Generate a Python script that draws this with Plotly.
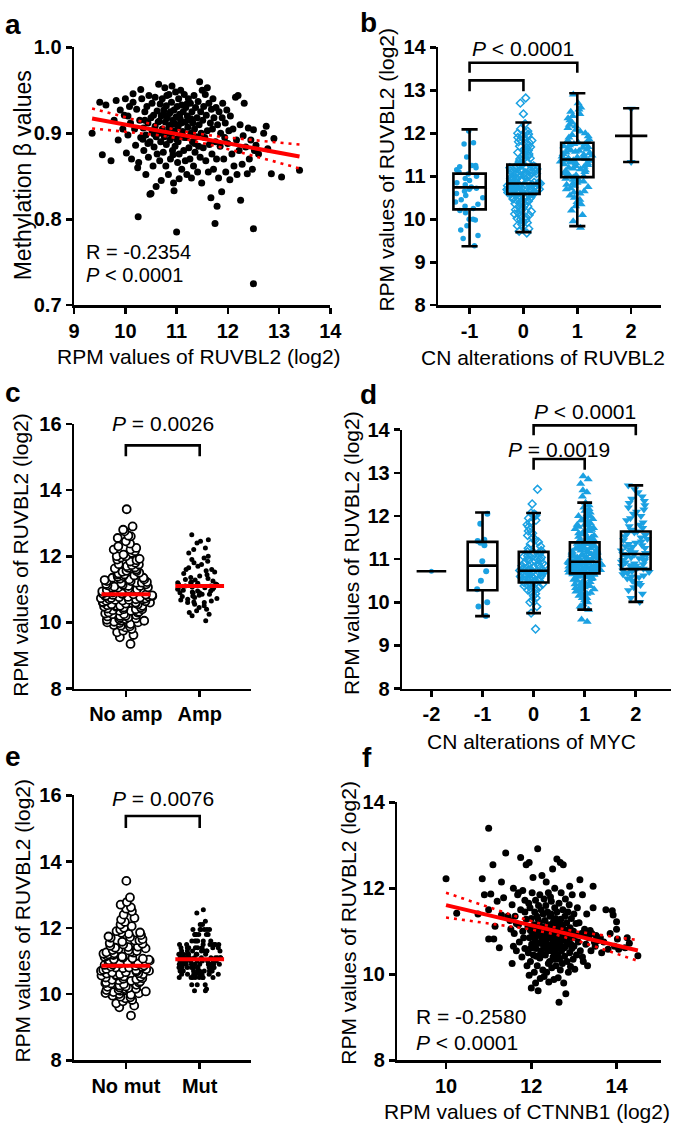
import numpy as np
import plotly.graph_objects as go

W, H = 685, 1135
FONT = "Liberation Sans, Arial, sans-serif"
BLUE = "#1BA1E2"
RED = "#FF0000"

# ---------------- Panel a: RUVBL2 (log2) vs methylation beta ----------------
a_points = [
    (9.35, .900), (9.50, .936), (9.55, .875), (9.62, .933), (9.72, .868), (9.78, .915), (9.82, .938), (9.86, .892), (9.90, .927),
    (9.95, .905), (9.98, .921), (10.00, .940), (10.02, .877), (10.05, .898), (10.08, .931), (10.10, .912), (10.12, .870), (10.15, .946),
    (10.18, .905), (10.20, .886), (10.22, .928), (10.24, .860), (10.25, .803), (10.26, .866), (10.28, .915), (10.30, .951), (10.30, .895),
    (10.05, .920), (10.15, .936),
    (10.32, .940), (10.35, .906), (10.36, .880), (10.38, .925), (10.40, .898), (10.40, .852), (10.42, .931), (10.44, .912), (10.45, .872),
    (10.46, .944), (10.48, .890), (10.50, .918), (10.50, .830), (10.52, .935), (10.52, .903), (10.54, .862), (10.55, .921), (10.56, .884),
    (10.58, .942), (10.58, .908), (10.60, .896), (10.60, .838), (10.62, .926), (10.62, .876), (10.64, .913), (10.65, .957), (10.66, .900),
    (10.67, .868), (10.68, .934), (10.69, .890), (10.70, .920), (10.70, .845), (10.38, .915), (10.44, .888), (10.48, .829), (10.56, .899),
    (10.66, .914), (10.34, .893),
    (10.72, .940), (10.72, .905), (10.74, .878), (10.75, .927), (10.76, .896), (10.77, .953), (10.78, .913), (10.79, .862), (10.80, .932),
    (10.80, .887), (10.82, .918), (10.83, .901), (10.84, .852), (10.85, .945), (10.86, .923), (10.87, .892), (10.88, .870), (10.89, .910),
    (10.90, .936), (10.90, .898), (10.91, .955), (10.92, .880), (10.93, .915), (10.94, .842), (10.95, .927), (10.96, .903), (10.97, .885),
    (10.98, .948), (10.99, .919), (11.00, .893), (11.00, .785), (11.01, .931), (11.02, .866), (11.03, .908), (11.04, .940), (11.05, .876),
    (11.06, .922), (11.07, .897), (11.08, .950), (11.09, .912), (11.10, .858), (11.10, .933), (10.74, .922), (10.81, .944), (10.85, .907),
    (10.88, .925), (10.93, .875), (10.97, .911), (11.03, .890), (11.07, .917), (10.79, .900), (10.95, .833), (11.05, .847),
    (11.12, .902), (11.13, .925), (11.14, .880), (11.15, .945), (11.16, .913), (11.17, .868), (11.18, .930), (11.19, .895), (11.20, .852),
    (11.21, .920), (11.22, .907), (11.23, .940), (11.24, .883), (11.25, .915), (11.26, .870), (11.27, .935), (11.28, .900), (11.29, .848),
    (11.30, .925), (11.31, .890), (11.32, .912), (11.33, .862), (11.34, .944), (11.35, .905), (11.36, .878), (11.37, .930), (11.38, .896),
    (11.40, .918), (11.41, .855), (11.42, .937), (11.43, .885), (11.44, .910), (11.45, .960), (11.46, .872), (11.47, .925), (11.48, .900),
    (11.49, .842), (11.20, .934), (11.28, .917), (11.35, .888), (11.15, .895),
    (11.50, .950), (11.51, .915), (11.52, .883), (11.53, .931), (11.55, .895), (11.56, .945), (11.57, .868), (11.58, .921), (11.60, .953),
    (11.60, .903), (11.62, .855), (11.63, .935), (11.64, .887), (11.66, .912), (11.67, .825), (11.68, .928), (11.69, .876), (11.70, .905),
    (11.71, .940), (11.72, .858), (11.73, .918), (11.75, .795), (11.76, .890), (11.77, .930), (11.78, .870), (11.79, .815), (11.80, .910),
    (11.82, .848), (11.83, .925), (11.85, .885), (11.86, .900), (11.88, .832), (11.89, .918),
    (11.90, .935), (11.92, .870), (11.94, .895), (11.95, .912), (11.96, .855), (11.98, .927), (12.00, .888), (12.02, .903), (12.04, .846),
    (12.05, .920), (12.08, .876), (12.10, .905), (12.12, .862), (12.15, .942), (12.17, .892), (12.18, .852), (12.20, .944), (12.22, .880),
    (12.24, .910), (12.25, .822), (12.28, .864), (12.30, .897),
    (12.32, .935), (12.35, .884), (12.38, .853), (12.40, .906), (12.42, .870), (12.45, .892), (12.48, .858), (12.50, .904), (12.50, .789),
    (12.50, .725), (12.52, .880), (12.55, .886), (12.60, .876), (12.70, .900), (12.75, .908), (12.78, .882), (12.85, .853), (12.90, .894),
    (13.05, .849), (13.40, .857),
]
a_ticks_x = [9, 10, 11, 12, 13, 14]
a_ticks_y = [0.7, 0.8, 0.9, 1.0]
a_ticktext_y = ["0.7", "0.8", "0.9", "1.0"]

# ---------------- Panel b: RUVBL2 by CN alteration of RUVBL2 ----------------
b_cn = [-1, 0, 1, 2]
b_m1 = [12.05, 11.78, 11.75, 11.45, 11.25, 11.2, 11.22, 11.25, 11.15, 11.1, 11.05, 11.0, 10.95, 10.9, 10.85, 10.8, 10.75,
        10.72, 10.7, 10.65, 10.6, 10.55, 10.5, 10.45, 10.4, 10.35, 10.3, 10.25, 10.2, 10.15, 10.0, 10.0, 9.98, 9.85, 9.75,
        9.62, 9.55, 9.38]
b_0 = [9.68, 9.72, 9.78, 9.85, 9.88, 9.92, 9.95, 9.98, 10.0, 10.02, 10.05, 10.08, 10.1, 10.12, 10.15, 10.18, 10.2, 10.22,
       10.25, 10.27, 10.3, 10.32, 10.34, 10.36, 10.38, 10.4, 10.42, 10.44, 10.45, 10.47, 10.48, 10.5, 10.51, 10.52, 10.54,
       10.55, 10.56, 10.57, 10.58, 10.59,
       10.6, 10.61, 10.62, 10.62, 10.63, 10.64, 10.65, 10.65, 10.66, 10.67, 10.68, 10.68, 10.69, 10.7, 10.7, 10.71, 10.72,
       10.72, 10.73, 10.74, 10.75, 10.75, 10.76, 10.77, 10.78, 10.78, 10.79, 10.8, 10.8, 10.81, 10.82, 10.82, 10.83, 10.83, 10.84,
       10.85, 10.86, 10.87, 10.88, 10.9, 10.91, 10.92, 10.94, 10.95, 10.96, 10.98, 10.99, 11.0, 11.02, 11.03, 11.04, 11.05,
       11.06, 11.08, 11.09, 11.1, 11.11, 11.12, 11.13, 11.14, 11.15, 11.16, 11.17, 11.18, 11.19, 11.2, 11.21, 11.22, 11.23,
       11.24, 11.25, 10.93, 11.07,
       11.27, 11.3, 11.32, 11.35, 11.38, 11.4, 11.42, 11.45, 11.48, 11.5, 11.52, 11.55, 11.58, 11.6, 11.62, 11.65, 11.68, 11.7,
       11.72, 11.75, 11.78, 11.8, 11.83, 11.85, 11.88, 11.9, 11.93, 11.95, 11.98, 12.0, 12.02, 12.05, 12.1, 12.22, 12.45, 12.7, 12.82]
b_1 = [9.8, 9.95, 10.1, 10.2, 10.3, 10.35, 10.4, 10.45, 10.5, 10.55, 10.6, 10.62, 10.65, 10.7, 10.72, 10.75, 10.78, 10.8,
       10.83, 10.85, 10.88, 10.9, 10.92, 10.94, 10.95,
       10.97, 11.0, 11.02, 11.05, 11.07, 11.1, 11.12, 11.14, 11.16, 11.18, 11.2, 11.22, 11.24, 11.26, 11.28, 11.3, 11.32, 11.34,
       11.35, 11.36, 11.37, 11.38,
       11.4, 11.42, 11.44, 11.46, 11.48, 11.5, 11.52, 11.54, 11.55, 11.57, 11.59, 11.6, 11.62, 11.64, 11.66, 11.68, 11.7, 11.72,
       11.74, 11.75, 11.3, 11.45,
       11.78, 11.8, 11.83, 11.86, 11.9, 11.93, 11.96, 12.0, 12.04, 12.08, 12.12, 12.16, 12.2, 12.25, 12.3, 12.35, 12.4, 12.45,
       12.5, 12.55, 12.6, 12.7, 12.9]
b_2 = [12.57, 11.33]
b_q1 = [10.23, 10.59, 10.98, 11.94]
b_med = [10.74, 10.83, 11.39, 11.94]
b_q3 = [11.06, 11.27, 11.78, 11.94]
b_lo = [9.37, 9.70, 9.84, 11.33]
b_hi = [12.09, 12.25, 12.93, 12.58]

# ---------------- Panel c: MYC amplification ----------------
c_groups = ["No amp", "Amp"]
c_noamp = [9.35, 9.55, 9.62, 9.7, 9.75, 9.8, 9.85, 9.88, 9.92, 9.95, 9.98, 10.0, 10.02, 10.05, 10.08, 10.1, 10.12, 10.15,
           10.18, 10.2, 10.22, 10.25, 10.27, 10.3, 10.32, 10.35, 10.37, 10.4, 10.42, 10.45, 10.47, 10.5, 10.52, 10.55, 10.57,
           10.6, 10.62, 10.64, 10.66, 10.68, 10.7, 10.72, 10.74, 10.76, 10.78, 10.8, 10.82, 10.84, 10.86, 10.88, 10.9,
           10.92, 10.94, 10.96, 10.98, 11.0, 11.02, 11.04, 11.06, 11.08, 11.1, 11.12, 11.14, 11.16, 11.18, 11.2, 11.22, 11.25,
           11.28, 11.3, 11.32, 11.35, 11.38, 11.4, 11.42, 11.45, 11.48, 11.5, 11.53, 11.56, 11.6, 11.63, 11.66, 11.7, 11.73,
           11.76, 11.8, 11.84, 11.88, 11.92, 11.96, 12.0, 12.05, 12.1, 12.15, 12.2, 12.25, 12.3, 12.38, 12.45, 12.55, 12.6,
           12.62, 12.75, 12.8, 12.9, 13.42,
           10.4, 10.5, 10.6, 10.7, 10.8, 10.9, 11.0, 11.1, 11.2, 11.3, 10.45, 10.55, 10.65, 10.75, 10.85, 10.95, 11.05, 11.15,
           11.25, 11.35, 10.3, 10.2, 10.1, 11.45, 11.55, 11.65, 11.75, 10.0, 9.9, 11.9, 12.0, 12.2,
           10.05, 10.15, 10.25, 10.35, 10.48, 10.58, 10.68, 10.73, 10.77, 10.83, 10.6, 10.4, 10.5, 10.7, 10.87, 10.81]
c_amp = [10.05, 10.2, 10.25, 10.3, 10.35, 10.4, 10.45, 10.5, 10.55, 10.6, 10.62, 10.65, 10.68, 10.7, 10.72, 10.75, 10.78,
         10.8, 10.82, 10.85, 10.88, 10.9, 10.92, 10.95, 10.97, 11.0, 11.02, 11.05, 11.07, 11.1, 11.12, 11.14, 11.16, 11.18,
         11.2, 11.22, 11.25, 11.28, 11.3, 11.33, 11.36, 11.4, 11.44, 11.48, 11.52, 11.56, 11.6, 11.65, 11.7, 11.75, 11.8,
         11.85, 11.9, 11.95, 12.0, 12.1, 12.2, 12.25, 12.4, 12.45, 12.5, 12.65, 10.9, 11.0, 11.1, 11.05, 10.95, 11.15, 10.85,
         11.2, 10.6, 11.6]

# ---------------- Panel d: RUVBL2 by CN alteration of MYC ----------------
d_cn = [-2, -1, 0, 1, 2]
d_m2 = [10.72]
d_m1 = [12.05, 11.82, 11.45, 11.42, 11.38, 11.32, 10.95, 10.72, 10.5, 10.3, 10.0, 9.9, 9.68]
d_0 = [9.38, 9.75, 9.9, 10.0, 10.05, 10.1, 10.15, 10.2, 10.25, 10.28, 10.3, 10.33, 10.35, 10.38, 10.4, 10.42, 10.44, 10.45,
       10.46, 10.48, 10.5, 10.52, 10.53, 10.55, 10.56, 10.58, 10.6, 10.61, 10.62, 10.64, 10.65, 10.66, 10.68, 10.69, 10.7,
       10.71, 10.72, 10.73, 10.74, 10.75, 10.76, 10.78, 10.8, 10.82, 10.84, 10.86, 10.88, 10.9, 10.92, 10.94, 10.96, 10.98,
       11.0, 11.02, 11.04, 11.06, 11.08, 11.1, 11.12, 11.14, 11.16, 11.17, 11.2, 11.25, 11.3, 11.35, 11.4, 11.45, 11.5,
       11.55, 11.6, 11.65, 11.7, 11.75, 11.8, 11.85, 11.9, 11.95, 12.0, 12.02, 12.05, 12.07, 12.28, 12.62, 10.5, 10.6,
       10.7, 10.8, 10.9, 11.0, 10.55, 10.65, 10.75, 10.85]
d_1 = [9.55, 9.6, 9.83, 9.9, 9.95, 10.0, 10.05, 10.1, 10.15, 10.2, 10.22, 10.25, 10.28, 10.3, 10.33, 10.35, 10.38, 10.4,
       10.42, 10.45, 10.47, 10.5, 10.52, 10.54, 10.56, 10.58, 10.6, 10.62, 10.64, 10.66, 10.67,
       10.3, 10.4, 10.5, 10.55, 10.6, 10.45, 10.35, 10.65, 10.2, 10.1, 10.62,
       10.68, 10.69, 10.7, 10.71, 10.72, 10.73, 10.74, 10.75, 10.76, 10.77, 10.78, 10.79, 10.8, 10.81, 10.82, 10.83, 10.84,
       10.85, 10.86, 10.87, 10.88, 10.89, 10.9, 10.91, 10.92, 10.93, 10.94, 10.7, 10.72, 10.75, 10.78, 10.8, 10.83, 10.85,
       10.88, 10.9, 10.92, 10.74, 10.82, 10.86, 10.76, 10.89, 10.94,
       10.95, 10.96, 10.97, 10.98, 10.99, 11.0, 11.02, 11.04, 11.05, 11.06, 11.08, 11.1, 11.12, 11.14, 11.15, 11.16, 11.18,
       11.2, 11.22, 11.24, 11.25, 11.26, 11.28, 11.3, 11.32, 11.34, 11.35, 11.36, 11.38, 11.39, 11.0, 11.05, 11.1, 11.15,
       11.2, 11.25, 11.3, 11.35, 10.98, 11.08, 11.18, 11.28, 11.38,
       11.42, 11.45, 11.48, 11.5, 11.52, 11.55, 11.58, 11.6, 11.62, 11.65, 11.68, 11.7, 11.72, 11.75, 11.78, 11.8, 11.83,
       11.86, 11.9, 11.93, 11.96, 12.0, 12.04, 12.08, 12.12, 12.16, 12.2, 12.25, 12.31, 12.45, 12.55, 12.6, 12.75, 12.85,
       12.92, 11.5, 11.6, 11.7, 11.8, 11.9, 12.0, 11.45]
d_2 = [10.01, 10.1, 10.2, 10.28, 10.35, 10.4, 10.45, 10.5, 10.55, 10.58, 10.62, 10.65, 10.68, 10.7, 10.72, 10.74, 10.76,
       10.77, 10.45, 10.6,
       10.78, 10.8, 10.82, 10.84, 10.86, 10.88, 10.9, 10.92, 10.94, 10.96, 10.98, 11.0, 11.02, 11.04, 11.06, 11.08, 11.1,
       11.11, 11.12, 10.85,
       11.14, 11.16, 11.18, 11.2, 11.23, 11.26, 11.29, 11.32, 11.35, 11.38, 11.41, 11.44, 11.47, 11.5, 11.53, 11.56, 11.59,
       11.62, 11.64, 11.3,
       11.68, 11.72, 11.76, 11.8, 11.85, 11.9, 11.95, 12.0, 12.05, 12.1, 12.15, 12.2, 12.25, 12.3, 12.35, 12.4, 12.45, 12.55,
       12.62, 12.71]
d_q1 = [10.72, 10.28, 10.46, 10.67, 10.77]
d_med = [10.72, 10.85, 10.73, 10.94, 11.12]
d_q3 = [10.72, 11.40, 11.17, 11.39, 11.64]
d_lo = [10.72, 9.68, 9.75, 9.83, 10.01]
d_hi = [10.72, 12.08, 12.07, 12.31, 12.71]

# ---------------- Panel e: CTNNB1 mutation ----------------
e_groups = ["No mut", "Mut"]
e_nomut = [9.35, 9.6, 9.65, 9.72, 9.78, 9.82, 9.87, 9.9, 9.95, 9.98, 10.0, 10.03, 10.06, 10.1, 10.13, 10.16, 10.2, 10.23,
           10.26, 10.3, 10.33, 10.36, 10.4, 10.43, 10.46, 10.5, 10.53, 10.56, 10.6, 10.63, 10.66, 10.7, 10.73, 10.76, 10.8,
           10.83, 10.86, 10.89,
           10.92, 10.95, 10.98, 11.01, 11.04, 11.07, 11.1, 11.13, 11.16, 11.2, 11.23, 11.26, 11.3, 11.33, 11.36, 11.4, 11.43,
           11.46, 11.5, 11.54, 11.58, 11.62, 11.66, 11.7, 11.74, 11.78, 11.82, 11.86, 11.9, 11.95, 12.0, 12.05, 12.1, 12.18,
           12.25, 12.3, 12.4, 12.5, 12.58, 12.62, 12.7, 12.78, 12.92, 13.42,
           10.02, 10.12, 10.22, 10.32, 10.42, 10.52, 10.62, 10.72, 10.82, 10.92, 11.02, 11.12, 11.22, 11.32, 11.42, 11.52,
           10.38, 10.48, 10.58, 10.68, 10.78, 10.88, 10.98, 11.08, 11.18, 11.28, 11.38, 10.28, 10.18, 10.08, 11.62, 11.72,
           11.85, 9.92, 10.45, 10.65, 10.85, 11.05, 11.25,
           10.15, 10.35, 10.55, 10.75, 10.8, 10.6, 10.7]
e_mut_levels = [10.1, 10.15, 10.28, 10.5, 10.6, 10.7, 10.8, 10.9, 11.0, 11.1, 11.2, 11.3, 11.4, 11.5, 11.6, 11.8, 11.95,
                12.1, 12.2, 12.45, 12.55]
e_mut_counts = [2, 1, 3, 8, 9, 11, 10, 12, 10, 11, 9, 8, 8, 7, 6, 6, 6, 2, 1, 1, 1]

# ---------------- Panel f: CTNNB1 vs RUVBL2 ----------------
f_points = [
    (10.0, 12.22), (10.25, 11.42), (10.75, 11.40), (10.85, 12.22), (11.0, 13.40), (11.0, 10.82), (11.05, 11.87), (11.1, 12.55),
    (11.12, 10.82), (11.15, 11.12), (11.25, 10.62), (11.3, 12.15), (11.35, 11.78), (11.4, 12.82), (11.45, 11.35), (11.5, 11.25),
    (11.2, 11.70), (11.3, 11.38), (10.9, 11.85), (11.0, 11.5),
    (11.52, 11.05), (11.55, 10.25), (11.55, 11.62), (11.58, 12.0), (11.6, 10.95), (11.62, 11.35), (11.65, 10.55), (11.68, 11.85),
    (11.7, 11.15), (11.72, 10.75), (11.75, 12.72), (11.75, 11.5), (11.78, 10.4), (11.8, 11.95), (11.8, 11.0), (11.82, 10.85),
    (11.85, 11.72), (11.85, 10.6), (11.88, 11.28), (11.88, 12.55), (11.9, 10.2), (11.58, 10.65), (11.7, 11.9), (11.65, 11.18),
    (11.85, 11.45),
    (11.92, 11.1), (11.93, 10.5), (11.95, 12.6), (11.95, 9.98), (11.96, 10.85), (11.97, 11.55), (11.98, 10.3), (12.0, 11.3),
    (12.0, 9.68), (12.01, 10.7), (12.02, 11.9), (12.03, 10.95), (12.04, 12.25), (12.05, 10.45), (12.06, 11.15), (12.07, 10.05),
    (12.08, 11.45), (12.09, 10.8), (12.1, 11.72), (12.1, 9.8), (12.11, 10.6), (12.12, 11.05), (12.13, 11.35), (12.14, 10.2),
    (12.15, 12.92), (12.15, 10.9), (12.16, 9.62), (12.17, 11.6), (12.18, 10.72), (12.19, 11.2), (12.2, 10.38), (12.2, 11.85),
    (12.21, 9.9), (12.22, 10.98), (12.23, 11.5), (12.24, 10.55), (12.25, 12.3), (12.25, 10.82), (12.26, 11.1), (12.27, 10.1),
    (12.28, 11.4), (12.29, 10.65), (12.3, 11.75), (12.3, 9.95), (11.94, 11.65), (12.0, 10.62), (12.06, 10.92), (12.12, 10.42),
    (12.18, 11.0), (12.24, 10.75), (12.28, 10.88), (11.98, 11.02), (12.08, 10.7), (12.16, 11.28), (12.22, 10.5), (12.02, 11.1),
    (12.31, 10.9), (12.32, 11.25), (12.33, 10.45), (12.34, 11.6), (12.35, 10.7), (12.35, 12.15), (12.36, 10.05), (12.37, 11.0),
    (12.38, 11.45), (12.39, 10.55), (12.4, 10.85), (12.4, 11.9), (12.41, 9.82), (12.42, 11.15), (12.43, 10.3), (12.44, 11.35),
    (12.45, 10.62), (12.46, 10.95), (12.47, 11.7), (12.48, 10.15), (12.49, 11.08), (12.5, 10.8), (12.5, 12.45), (12.51, 10.4),
    (12.52, 11.22), (12.53, 9.88), (12.54, 10.72), (12.55, 11.55), (12.55, 10.98), (12.56, 10.5), (12.57, 11.3), (12.58, 10.2),
    (12.59, 10.88), (12.6, 11.45), (12.6, 12.68), (12.61, 10.6), (12.62, 11.1), (12.63, 9.92), (12.64, 10.78), (12.65, 9.35),
    (12.65, 11.65), (12.66, 10.35), (12.67, 11.0), (12.68, 12.6), (12.68, 10.68), (12.69, 11.28), (12.7, 10.9), (12.7, 11.9),
    (12.32, 10.62), (12.36, 10.82), (12.42, 10.68), (12.44, 10.98), (12.48, 10.55), (12.52, 10.92), (12.56, 11.12),
    (12.58, 10.65), (12.62, 10.45), (12.64, 11.22), (12.66, 10.85), (12.34, 11.08), (12.38, 10.95), (12.46, 11.4),
    (12.54, 10.35), (12.6, 10.75), (12.5, 11.0), (12.4, 10.25), (12.68, 10.1), (12.45, 11.8), (12.55, 12.0),
    (12.71, 10.55), (12.72, 11.15), (12.73, 10.25), (12.74, 11.5), (12.75, 10.8), (12.75, 12.55), (12.76, 9.8), (12.77, 11.05),
    (12.78, 10.42), (12.79, 11.35), (12.8, 10.65), (12.8, 11.75), (12.81, 9.55), (12.82, 10.95), (12.83, 11.2), (12.84, 10.3),
    (12.85, 10.75), (12.86, 11.45), (12.87, 10.05), (12.88, 10.88), (12.89, 11.62), (12.9, 10.5), (12.9, 12.05), (12.91, 11.08),
    (12.92, 10.18), (12.93, 10.7), (12.94, 11.3), (12.95, 10.6), (12.96, 11.85), (12.97, 10.85), (12.98, 10.35), (12.99, 11.0),
    (13.0, 10.65), (13.0, 11.4), (13.02, 10.12), (13.04, 10.9), (13.05, 11.18), (13.06, 10.45), (13.08, 11.55), (13.1, 10.75),
    (12.72, 10.92), (12.78, 10.62), (12.84, 11.0), (12.92, 10.92),
    (13.12, 11.2), (13.14, 12.2), (13.15, 10.55), (13.18, 10.95), (13.2, 11.85), (13.22, 10.3), (13.25, 11.05), (13.28, 10.7),
    (13.3, 11.4), (13.32, 10.2), (13.35, 10.85), (13.38, 11.02), (13.4, 10.55), (13.42, 10.95), (13.45, 12.05), (13.45, 11.55),
    (13.48, 10.75), (13.5, 10.65), (13.52, 10.9), (13.55, 10.78), (13.2, 10.4), (13.3, 10.9),
    (13.62, 10.85), (13.65, 10.5), (13.7, 10.75), (13.75, 11.5), (13.8, 10.58), (13.85, 10.95), (13.9, 11.48), (13.92, 11.38),
    (13.95, 10.65), (14.0, 11.05), (14.02, 10.82), (14.05, 10.58), (14.2, 10.62), (14.25, 10.85), (14.3, 10.72), (14.5, 10.43),
    (14.0, 11.22),
]

# ---------------- geometry (pixels of each panel's plot box) ----------------
GEOM = {
    "a": dict(xpx=(70, 333), xr=(9, 14), ypx=(300, 37), yr=(0.7, 1.0)),
    "b": dict(xpx=(444, 673), xr=(-1.58, 2.56), ypx=(300, 37), yr=(8, 14)),
    "c": dict(xpx=(70, 252), xr=(-0.7, 1.7), ypx=(691, 421), yr=(8, 16)),
    "d": dict(xpx=(407, 683), xr=(-2.57, 2.69), ypx=(691, 427), yr=(8, 14)),
    "e": dict(xpx=(70, 252), xr=(-0.7, 1.7), ypx=(1070, 800), yr=(8, 16)),
    "f": dict(xpx=(402, 673), xr=(8.86, 15.05), ypx=(1070, 807), yr=(8, 14)),
}


def fx(px):
    return px / W


def fy(py):
    return 1 - py / H


def data_to_paper(panel, x, y):
    g = GEOM[panel]
    px = g["xpx"][0] + (x - g["xr"][0]) / (g["xr"][1] - g["xr"][0]) * (g["xpx"][1] - g["xpx"][0])
    py = g["ypx"][0] + (y - g["yr"][0]) / (g["yr"][1] - g["yr"][0]) * (g["ypx"][1] - g["ypx"][0])
    return fx(px), fy(py)


def fit_band(xv, yv):
    xv = np.asarray(xv, float)
    yv = np.asarray(yv, float)
    n = len(xv)
    slope, icpt = np.polyfit(xv, yv, 1)
    xs = np.linspace(xv.min(), xv.max(), 60)
    yhat = icpt + slope * xs
    resid = yv - (icpt + slope * xv)
    s = np.sqrt(np.sum(resid ** 2) / (n - 2))
    sxx = np.sum((xv - xv.mean()) ** 2)
    se = s * np.sqrt(1.0 / n + (xs - xv.mean()) ** 2 / sxx)
    return xs, yhat, yhat - 1.97 * se, yhat + 1.97 * se


fig = go.Figure()
LW = 2.6
TICK_SIZE = 20
TITLE_SIZE = 21


def axis(panel, which, tickvals, ticktext=None, anchor="x"):
    g = GEOM[panel]
    if which == "x":
        domain = [fx(g["xpx"][0]), fx(g["xpx"][1])]
        rng = list(g["xr"])
    else:
        domain = [fy(g["ypx"][0]), fy(g["ypx"][1])]
        rng = list(g["yr"])
    d = dict(domain=domain, range=rng, anchor=anchor, showline=True, linecolor="black", linewidth=LW,
             ticks="outside", ticklen=6, tickwidth=LW, tickcolor="black", showgrid=False, zeroline=False,
             tickvals=tickvals, tickfont=dict(family=FONT, size=TICK_SIZE, color="black", weight="bold"),
             fixedrange=True)
    if ticktext is not None:
        d["ticktext"] = ticktext
    return d


# panel a
ax, ay = zip(*a_points)
fig.add_trace(go.Scatter(x=ax, y=ay, mode="markers", marker=dict(color="black", size=7),
                         xaxis="x", yaxis="y", hoverinfo="skip"))
xs, yh, lo, hi = fit_band(ax, ay)
fig.add_trace(go.Scatter(x=xs, y=yh, mode="lines", line=dict(color=RED, width=4), xaxis="x", yaxis="y"))
for band in (lo, hi):
    fig.add_trace(go.Scatter(x=xs, y=band, mode="lines", line=dict(color=RED, width=2.6, dash="3px,5px"),
                             xaxis="x", yaxis="y"))

# panel f
fxv, fyv = zip(*f_points)
fig.add_trace(go.Scatter(x=fxv, y=fyv, mode="markers", marker=dict(color="black", size=7),
                         xaxis="x6", yaxis="y6", hoverinfo="skip"))
xs, yh, lo, hi = fit_band(fxv, fyv)
fig.add_trace(go.Scatter(x=xs, y=yh, mode="lines", line=dict(color=RED, width=4), xaxis="x6", yaxis="y6"))
for band in (lo, hi):
    fig.add_trace(go.Scatter(x=xs, y=band, mode="lines", line=dict(color=RED, width=2.6, dash="3px,5px"),
                             xaxis="x6", yaxis="y6"))

CLEAR = "rgba(0,0,0,0)"


def points(vals, pos, xa, ya, marker, width, jitter=1.0):
    fig.add_trace(go.Box(y=vals, x0=pos, boxpoints="all", jitter=jitter, pointpos=0, width=width,
                         line=dict(color=CLEAR, width=0.1), fillcolor=CLEAR, marker=marker,
                         xaxis=xa, yaxis=ya, hoverinfo="skip"))


# panel b points
points(b_m1, b_cn[0], "x2", "y2", dict(color=BLUE, size=5.5, symbol="circle"), 0.6)
points(b_0, b_cn[1], "x2", "y2", dict(color=BLUE, size=6, symbol="diamond-open", line=dict(color=BLUE, width=1.5)), 0.64)
points(b_1, b_cn[2], "x2", "y2", dict(color=BLUE, size=8, symbol="triangle-up"), 0.64)
points(b_2, b_cn[3], "x2", "y2", dict(color=BLUE, size=8, symbol="triangle-down"), 0.6, jitter=0)
fig.add_trace(go.Box(x=b_cn, q1=b_q1, median=b_med, q3=b_q3, lowerfence=b_lo, upperfence=b_hi,
                     boxpoints=False, width=0.6, whiskerwidth=0.5, line=dict(color="black", width=LW),
                     fillcolor=CLEAR, xaxis="x2", yaxis="y2", hoverinfo="skip"))

# panel d points
points(d_m2, d_cn[0], "x4", "y4", dict(color=BLUE, size=5, symbol="circle"), 0.56, jitter=0)
points(d_m1, d_cn[1], "x4", "y4", dict(color=BLUE, size=6, symbol="circle"), 0.6, jitter=0.5)
points(d_0, d_cn[2], "x4", "y4", dict(color=BLUE, size=6, symbol="diamond-open", line=dict(color=BLUE, width=1.5)), 0.62)
points(d_1, d_cn[3], "x4", "y4", dict(color=BLUE, size=8, symbol="triangle-up"), 0.66)
points(d_2, d_cn[4], "x4", "y4", dict(color=BLUE, size=8, symbol="triangle-down"), 0.66)
fig.add_trace(go.Box(x=d_cn, q1=d_q1, median=d_med, q3=d_q3, lowerfence=d_lo, upperfence=d_hi,
                     boxpoints=False, width=0.58, whiskerwidth=0.5, line=dict(color="black", width=LW),
                     fillcolor=CLEAR, xaxis="x4", yaxis="y4", hoverinfo="skip"))

# panel c
open_circ = dict(color="white", size=8, symbol="circle", line=dict(color="black", width=1.8))
dot = dict(color="black", size=5, symbol="circle")
points(c_noamp, 0, "x3", "y3", open_circ, 0.72)
points(c_amp, 1, "x3", "y3", dot, 0.68)
for i, vals in enumerate((c_noamp, c_amp)):
    m = float(np.median(vals))
    fig.add_trace(go.Scatter(x=[i - 0.33, i + 0.33], y=[m, m], mode="lines", line=dict(color=RED, width=4),
                             xaxis="x3", yaxis="y3", hoverinfo="skip"))

# panel e
e_mut = list(np.repeat(e_mut_levels, e_mut_counts))
points(e_nomut, 0, "x5", "y5", open_circ, 0.72)
points(e_mut, 1, "x5", "y5", dot, 0.68)
for i, vals in enumerate((e_nomut, e_mut)):
    m = float(np.median(vals))
    fig.add_trace(go.Scatter(x=[i - 0.33, i + 0.33], y=[m, m], mode="lines", line=dict(color=RED, width=4),
                             xaxis="x5", yaxis="y5", hoverinfo="skip"))

layout = dict(
    width=W, height=H, margin=dict(l=0, r=0, t=0, b=0), showlegend=False,
    paper_bgcolor="white", plot_bgcolor="white", font=dict(family=FONT, color="black"),
    boxmode="overlay", hovermode=False,
    xaxis=axis("a", "x", a_ticks_x, anchor="y"),
    yaxis=axis("a", "y", a_ticks_y, a_ticktext_y, anchor="x"),
    xaxis2=axis("b", "x", b_cn, [str(v) for v in b_cn], anchor="y2"),
    yaxis2=axis("b", "y", list(range(8, 15)), anchor="x2"),
    xaxis3=axis("c", "x", [0, 1], c_groups, anchor="y3"),
    yaxis3=axis("c", "y", [8, 10, 12, 14, 16], anchor="x3"),
    xaxis4=axis("d", "x", d_cn, [str(v) for v in d_cn], anchor="y4"),
    yaxis4=axis("d", "y", list(range(8, 15)), anchor="x4"),
    xaxis5=axis("e", "x", [0, 1], e_groups, anchor="y5"),
    yaxis5=axis("e", "y", [8, 10, 12, 14, 16], anchor="x5"),
    xaxis6=axis("f", "x", [10, 12, 14], anchor="y6"),
    yaxis6=axis("f", "y", [8, 10, 12, 14], anchor="x6"),
)
fig.update_layout(**layout)

anns = []


def text(t, px, py, size=TITLE_SIZE, angle=0, bold=False, xanchor="center"):
    anns.append(dict(text=t, x=fx(px), y=fy(py), xref="paper", yref="paper", showarrow=False,
                     xanchor=xanchor, yanchor="middle", textangle=angle, borderpad=0,
                     font=dict(family=FONT, size=size, color="black", weight="bold" if bold else "normal")))


# panel letters
for lab, px, py in (("a", 7, 14), ("b", 372, 12), ("c", 7, 389), ("d", 372, 391), ("e", 7, 760), ("f", 371, 761)):
    text(lab, px, py, size=28, bold=True)

# axis titles
text("Methylation β values", 17, 168, size=23, angle=-90)
text("RPM values of RUVBL2 (log2)", 198, 352)
text("RPM values of RUVBL2 (log2)", 391, 162, angle=-90)
text("CN alterations of RUVBL2", 552, 353)
text("RPM values of RUVBL2 (log2)", 15, 555, angle=-90)
text("RPM values of RUVBL2 (log2)", 355, 553, angle=-90)
text("CN alterations of MYC", 540, 745)
text("RPM values of RUVBL2 (log2)", 16, 928, angle=-90)
text("RPM values of RUVBL2 (log2)", 352, 930, angle=-90)
text("RPM values of CTNNB1 (log2)", 535, 1122)

# statistics
text("R = -0.2354", 81, 246, size=20, xanchor="left")
text("<i>P</i> &lt; 0.0001", 81, 269, size=20, xanchor="left")
text("R = -0.2580", 420, 1025, size=21, xanchor="left")
text("<i>P</i> &lt; 0.0001", 420, 1052, size=21, xanchor="left")


def sig_text(t, panel, x, y):
    px, py = data_to_paper(panel, x, y)
    anns.append(dict(text=t, x=px, y=py, xref="paper", yref="paper", showarrow=False, xanchor="center",
                     yanchor="middle", borderpad=0, font=dict(family=FONT, size=21, color="black")))


sig_text("<i>P</i> &lt; 0.0001", "b", 0, 13.98)
sig_text("<i>P</i> = 0.0026", "c", 0.5, 16.0)
sig_text("<i>P</i> &lt; 0.0001", "d", 1, 14.43)
sig_text("<i>P</i> = 0.0019", "d", 0.5, 13.55)
sig_text("<i>P</i> = 0.0076", "e", 0.5, 15.92)

fig.update_layout(annotations=anns)

shapes = []


def bracket(panel, x0, x1, ytop, ybot):
    p0x, p0y = data_to_paper(panel, x0, ybot)
    p1x, p1y = data_to_paper(panel, x1, ytop)
    shapes.append(dict(type="path", xref="paper", yref="paper",
                       path=f"M {p0x},{p0y} L {p0x},{p1y} L {p1x},{p1y} L {p1x},{p0y}",
                       line=dict(color="black", width=LW)))


bracket("b", -1, 1, 13.64, 13.41)
bracket("b", -1, 0, 13.23, 12.98)
bracket("c", 0, 1, 15.35, 15.02)
bracket("d", 0, 2, 14.10, 13.87)
bracket("d", 0, 1, 13.32, 13.07)
bracket("e", 0, 1, 15.38, 15.02)
fig.update_layout(shapes=shapes)

# the page's default 8px body margin would shift the whole figure; remove it
fig.write_html("out.html", config={"displayModeBar": False, "staticPlot": True},
               post_script="document.body.style.margin='0';document.body.style.overflow='hidden';")
